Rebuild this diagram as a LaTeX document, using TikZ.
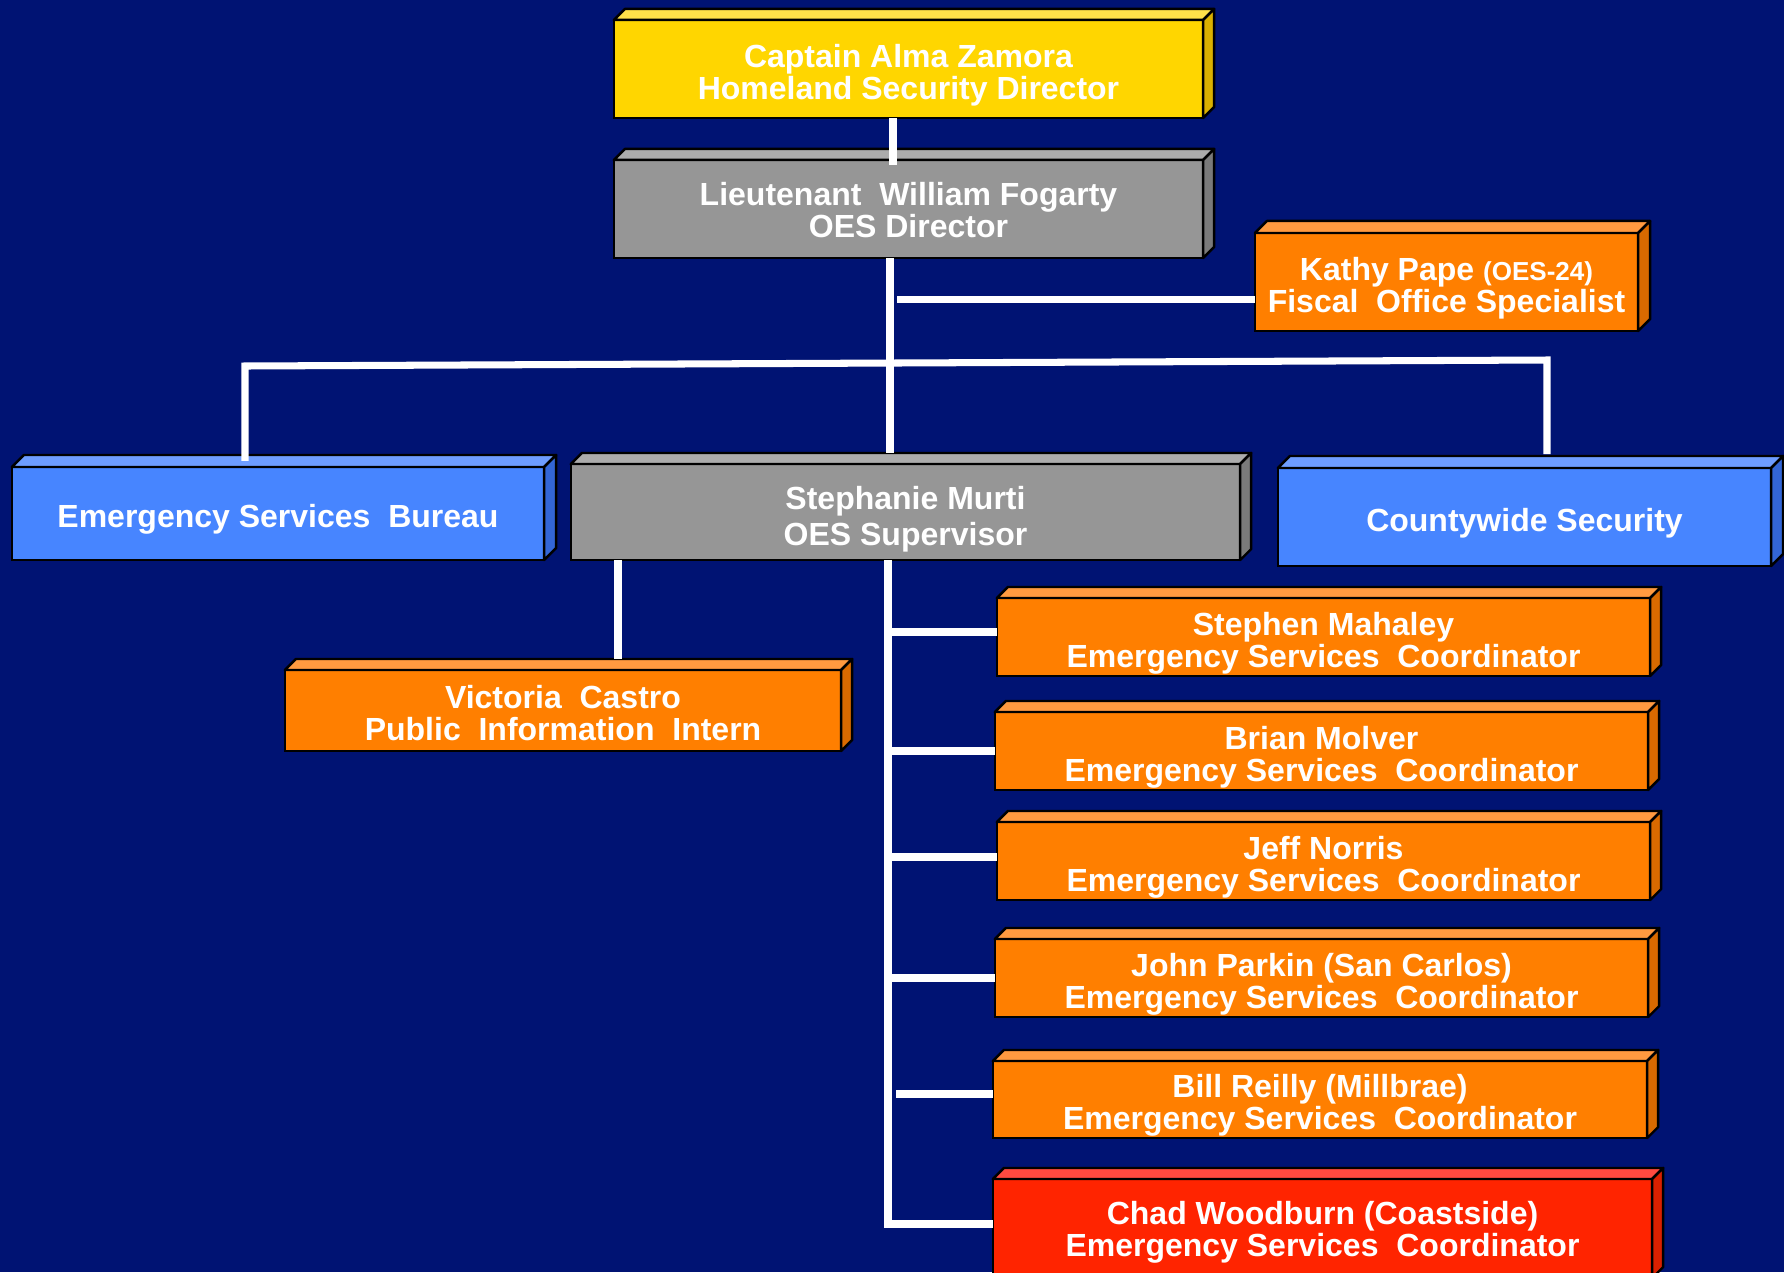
\documentclass[tikz,border=0pt]{standalone}
\usepackage{fontspec}
\setmainfont{Liberation Sans}
\usepackage{xcolor}
\usepackage{tikz}

\definecolor{navy}{RGB}{0,19,115}
\definecolor{yel}{RGB}{255,214,0}
\definecolor{topyel}{RGB}{255,225,74}
\definecolor{sideyel}{RGB}{217,176,0}
\definecolor{gry}{RGB}{150,150,150}
\definecolor{topgry}{RGB}{172,172,172}
\definecolor{sidegry}{RGB}{122,122,122}
\definecolor{org}{RGB}{255,127,0}
\definecolor{toporg}{RGB}{255,154,64}
\definecolor{sideorg}{RGB}{217,106,0}
\definecolor{blu}{RGB}{71,133,255}
\definecolor{topblu}{RGB}{110,157,255}
\definecolor{sideblu}{RGB}{51,102,214}
\definecolor{red}{RGB}{255,36,0}
\definecolor{topred}{RGB}{255,74,64}
\definecolor{sidered}{RGB}{217,32,0}

% strut that pushes the text a little lower in its box
\newcommand{\hd}[1][9.9pt]{\rule{0pt}{#1}}

\tikzset{
	unit/.style={draw=black, line width=0.7pt, outer sep=0pt, inner sep=0pt, text=white, align=center,
		font=\fontsize{9.1}{9.1}\selectfont\bfseries},
	edge/.style={draw=black, line width=0.7pt, line join=round},
	link/.style={draw=white, line width=2pt},
}

\begin{document}
\begin{tikzpicture}[x=0.01cm, y=-0.01cm]
		\fill[navy] (0,0) rectangle (1784,1272);
		\useasboundingbox (0,0) rectangle (1784,1272);
		\clip (0,0) rectangle (1784,1272);

		% top of the chart
		\node[unit, fill=yel, minimum width=5.89cm, minimum height=0.98cm] (hsd) at (908.5,69) {\hd Captain Alma Zamora\\Homeland Security Director};
		\node[unit, fill=gry, minimum width=5.89cm, minimum height=0.98cm] (oes) at (908.5,209) {\hd[7.4pt]Lieutenant~~William Fogarty\\OES Director};
		\node[unit, fill=org, minimum width=3.83cm, minimum height=0.98cm] (fos) at (1446.5,282) {\hd Kathy Pape {\fontsize{7.4}{7.4}\selectfont(OES-24)}\\Fiscal~~Office Specialist};

		% second row
		\node[unit, fill=blu, minimum width=5.32cm, minimum height=0.93cm] (esb) at (278,513.5) {\hd Emergency Services~~Bureau};
		\node[unit, fill=gry, minimum width=6.69cm, minimum height=0.96cm, font=\fontsize{9.1}{10.4}\selectfont\bfseries] (sup) at (905.5,512) {\hd[10.8pt]Stephanie Murti\\OES Supervisor};
		\node[unit, fill=blu, minimum width=4.93cm, minimum height=0.98cm] (cws) at (1524.5,517) {\hd Countywide Security};

		% under the supervisor
		\node[unit, fill=org, minimum width=5.56cm, minimum height=0.81cm] (pio) at (563,710.5) {\hd[7.9pt]Victoria~~Castro\\Public~~Information~~Intern};
		\node[unit, fill=org, minimum width=6.53cm, minimum height=0.78cm] (esc1) at (1323.5,637) {\hd Stephen Mahaley\\Emergency Services~~Coordinator};
		\node[unit, fill=org, minimum width=6.53cm, minimum height=0.78cm] (esc2) at (1321.5,751) {\hd Brian Molver\\Emergency Services~~Coordinator};
		\node[unit, fill=org, minimum width=6.53cm, minimum height=0.78cm] (esc3) at (1323.5,861) {\hd Jeff Norris\\Emergency Services~~Coordinator};
		\node[unit, fill=org, minimum width=6.53cm, minimum height=0.78cm] (esc4) at (1321.5,978) {\hd John Parkin (San Carlos)\\Emergency Services~~Coordinator};
		\node[unit, fill=org, minimum width=6.54cm, minimum height=0.77cm] (esc5) at (1320,1099.5) {\hd Bill Reilly (Millbrae)\\Emergency Services~~Coordinator};
		\node[unit, fill=red, minimum width=6.59cm, minimum height=0.99cm] (esc6) at (1322.5,1228.5) {\hd[8.6pt]Chad Woodburn (Coastside)\\Emergency Services~~Coordinator};

		% top and side faces
		\foreach \n/\c/\d in {hsd/yel/11, oes/gry/11, fos/org/12, esb/blu/12, sup/gry/11, cws/blu/12, pio/org/11,
				esc1/org/11, esc2/org/11, esc3/org/11, esc4/org/11, esc5/org/11, esc6/red/11}{
			\filldraw[edge, fill=top\c] (\n.north west) -- ++(\d,-\d) -- ([shift={(\d,-\d)}]\n.north east) -- (\n.north east) -- cycle;
			\filldraw[edge, fill=side\c] (\n.north east) -- ++(\d,-\d) -- ([shift={(\d,-\d)}]\n.south east) -- (\n.south east) -- cycle;
		}

		\coordinate (xa) at (893,0);
		\coordinate (xb) at (890,0);
		\coordinate (xv) at (618,0);
		\coordinate (xs) at (888,0);
		\coordinate (xr) at (896,0);
		\coordinate (barL) at (245,366);
		\coordinate (barR) at (1547,360);

		% connectors
		\draw[link] (hsd.south -| xa) -- ++(0,47);
		\draw[link] (oes.south -| xb) -- ++(0,195);
		\draw[link] ([yshift=-0.17cm]fos.west) -- ++(-358,0);
		\draw[link] (esb.north -| barL) ++(0,-6) -- (barL) -- (barR) -- ++(0,94);
		\draw[link] (sup.south -| xv) -- ++(0,99);
		\path ([yshift=0.045cm]esc6.west) coordinate (b6);
		\draw[link] (sup.south -| xs) -- (b6 -| xs) -- (b6);
		\foreach \n/\s in {esc1/0.05cm, esc2/0cm, esc3/0.04cm, esc4/0cm}{
			\path ([yshift=\s]\n.west) coordinate (b);
			\draw[link] (b -| xs) -- (b);
		}
		\path ([yshift=0.055cm]esc5.west) coordinate (b5);
		\draw[link] (b5 -| xr) -- (b5);
	\end{tikzpicture}
\end{document}
